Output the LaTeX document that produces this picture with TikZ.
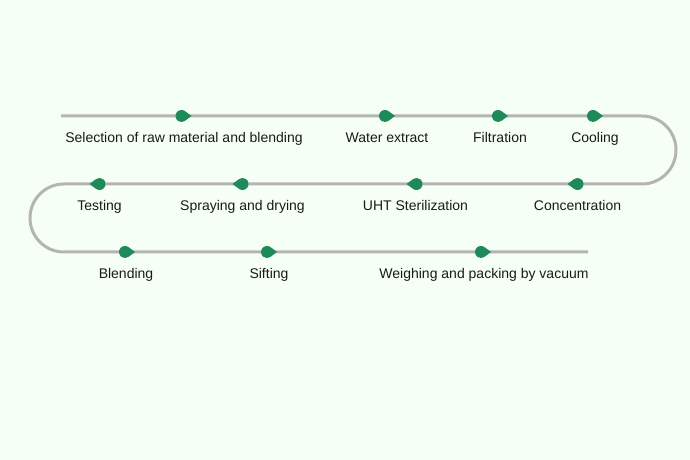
\documentclass[tikz,border=0pt]{standalone}
\usepackage{fontspec}
\setmainfont{Liberation Sans}
\usetikzlibrary{positioning,calc}
\definecolor{bgmint}{HTML}{F6FFF6}
\definecolor{flowgray}{HTML}{B4B4B4}
\definecolor{dropgreen}{HTML}{1E8A5A}
\definecolor{labelink}{HTML}{1A1A1A}
\tikzset{
  flowline/.style={draw=flowgray,line width=3pt,rounded corners=34pt},
  steplabel/.style={anchor=base,inner sep=0pt,font=\fontsize{14}{16}\selectfont,text=labelink},
  pics/drop/.style={code={
    \fill[dropgreen] (10,0) -- (55:6) arc[start angle=55,end angle=305,radius=6] -- cycle;}}
}

\begin{document}
\begin{tikzpicture}[x=1pt,y=1pt]
  \fill[bgmint] (0,0) rectangle (690,460);
  \useasboundingbox (0,0) rectangle (690,460);
  % 行の高さ
  \def\ra{344}
  \def\rb{276}
  \def\rc{208}
  \coordinate (start) at (61,\ra);
  \coordinate (turnA) at (676,\ra);
  \coordinate (turnB) at (676,\rb);
  \coordinate (turnC) at (30,\rb);
  \coordinate (turnD) at (30,\rc);
  \coordinate (finish) at (588,\rc);
  \draw[flowline] (start) -- (turnA) -- (turnB) -- (turnC) -- (turnD) -- (finish);
  % 工程の点
  \foreach \n/\x/\y/\a in {1/181.5/\ra/0, 2/385/\ra/0, 3/498/\ra/0, 4/593/\ra/0,
                           5/577.5/\rb/180, 6/416.5/\rb/180, 7/242.5/\rb/180, 8/99.5/\rb/180,
                           9/125/\rc/0, 10/267/\rc/0, 11/481/\rc/0}
    \path (\x,\y) coordinate (m\n) pic[rotate=\a]{drop};
  % ラベル
  \node[steplabel] (selection) at ([shift={(2.5,-27)}]m1) {Selection of raw material and blending};
  \node[steplabel] (extract) at ([shift={(2,-27)}]m2) {Water extract};
  \node[steplabel] (filtration) at ([shift={(2,-27)}]m3) {Filtration};
  \node[steplabel] (cooling) at ([shift={(2,-27)}]m4) {Cooling};
  \node[steplabel] (concentration) at ([shift={(0,-27)}]m5) {Concentration};
  \node[steplabel] (uht) at ([shift={(-1,-27)}]m6) {UHT Sterilization};
  \node[steplabel] (spraying) at ([shift={(0,-27)}]m7) {Spraying and drying};
  \node[steplabel] (testing) at ([shift={(0,-27)}]m8) {Testing};
  \node[steplabel] (blending) at ([shift={(1,-27)}]m9) {Blending};
  \node[steplabel] (sifting) at ([shift={(2,-27)}]m10) {Sifting};
  \node[steplabel] (weighing) at ([shift={(3,-27)}]m11) {Weighing and packing by vacuum};
\end{tikzpicture}
\end{document}
